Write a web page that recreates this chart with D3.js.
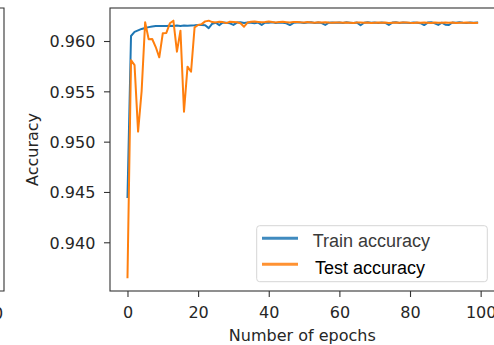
<!DOCTYPE html>
<html>
<head>
<meta charset="utf-8">
<script src="https://cdn.jsdelivr.net/npm/d3@7"></script>
<style>
  html, body { margin: 0; padding: 0; background: #fff; }
  svg { display: block; }
</style>
</head>
<body>
<script>
// ---- data ----
const epochs = d3.range(0, 100);
const trainAcc = [
 0.9445, 0.9605, 0.9609, 0.96105, 0.9612, 0.9613, 0.96138, 0.96145, 0.96148, 0.9615,
 0.96148, 0.9615, 0.96152, 0.96149, 0.96153, 0.9615, 0.96154, 0.96152, 0.96155, 0.96156,
 0.96158, 0.9616, 0.96157, 0.96128, 0.96172, 0.96182, 0.96158, 0.96185, 0.96181, 0.96176,
 0.9616, 0.96183, 0.96187, 0.96179, 0.96185, 0.96182, 0.96177, 0.96183, 0.9616, 0.96184,
 0.96181, 0.96186, 0.96179, 0.96184, 0.96182, 0.96176, 0.96158, 0.96181, 0.96185, 0.96183,
 0.96179, 0.96184, 0.96186, 0.9618, 0.96183, 0.96178, 0.9616, 0.96182, 0.96185, 0.96181,
 0.96184, 0.96179, 0.96186, 0.96182, 0.96178, 0.96183, 0.96157, 0.96182, 0.96187, 0.96181,
 0.96184, 0.9618, 0.96185, 0.96179, 0.9616, 0.96183, 0.96186, 0.9618, 0.96184, 0.96182,
 0.96178, 0.96185, 0.96181, 0.96177, 0.96158, 0.96183, 0.96186, 0.96176, 0.9616, 0.96182,
 0.96162, 0.96159, 0.96184, 0.96181, 0.96186, 0.96182, 0.96179, 0.96184, 0.96182, 0.96183
];
const testAcc = [
 0.93652, 0.9581, 0.9576, 0.9510, 0.9550, 0.96186, 0.96017, 0.9602, 0.9594, 0.95838,
 0.96077, 0.9608, 0.96176, 0.96202, 0.95894, 0.96103, 0.95297, 0.95745, 0.95695, 0.96136,
 0.96159, 0.96168, 0.96195, 0.96202, 0.96188, 0.96185, 0.96192, 0.96188, 0.96178, 0.96191,
 0.96189, 0.96186, 0.96176, 0.96142, 0.96183, 0.96192, 0.96194, 0.9619, 0.96186, 0.96189,
 0.96193, 0.96188, 0.96185, 0.96189, 0.96191, 0.96187, 0.96183, 0.96188, 0.9619, 0.96186,
 0.96184, 0.96188, 0.96185, 0.96182, 0.96186, 0.96184, 0.96187, 0.96183, 0.96181, 0.96185,
 0.96183, 0.96181, 0.96184, 0.96182, 0.9618, 0.96183, 0.96185, 0.96181, 0.96183, 0.9618,
 0.96182, 0.96184, 0.96181, 0.96183, 0.9618, 0.96182, 0.96184, 0.96181, 0.96183, 0.96185,
 0.96182, 0.9618, 0.96183, 0.96181, 0.96184, 0.96182, 0.9618, 0.96183, 0.96181, 0.96182,
 0.96184, 0.96181, 0.96183, 0.9618, 0.96182, 0.96181, 0.96183, 0.96182, 0.9618, 0.96181
];
const xTicks = [0, 20, 40, 60, 80, 100];
const yTicks = [0.940, 0.945, 0.950, 0.955, 0.960];
const seriesNames = ["Train accuracy", "Test accuracy"];
const seriesColors = ["#1f77b4", "#ff7f0e"];

// ---- layout ----
const W = 494, H = 345;
const plot = { left: 110, right: 494.6, top: 8, bottom: 291 };

const svg = d3.select("body").append("svg")
  .attr("width", W).attr("height", H);

const x = d3.scaleLinear().domain([-4.95, 103.95]).range([plot.left, plot.right]);
const y = d3.scaleLinear().domain([0.93516, 0.96328]).range([plot.bottom, plot.top]);

// partial neighbouring panel on the far left
svg.append("path")
  .attr("d", `M0,${plot.top}H4V${plot.bottom}H0`)
  .attr("fill", "none").attr("stroke", "#333").attr("stroke-width", 1.1);
svg.append("text")
  .attr("x", -12).attr("y", 319)
  .attr("text-anchor", "middle")
  .attr("font-family", "DejaVu Sans").attr("font-size", 16)
  .attr("fill", "#262626").text("100");

// lines
const line = d3.line().x((d, i) => x(epochs[i])).y(d => y(d));
const clip = svg.append("clipPath").attr("id", "clip").append("rect")
  .attr("x", plot.left).attr("y", plot.top)
  .attr("width", plot.right - plot.left).attr("height", plot.bottom - plot.top);

const gLines = svg.append("g").attr("clip-path", "url(#clip)");
[trainAcc, testAcc].forEach((s, k) => {
  gLines.append("path").datum(s)
    .attr("d", line)
    .attr("fill", "none")
    .attr("stroke", seriesColors[k])
    .attr("stroke-width", 2)
    .attr("stroke-linejoin", "round")
    .attr("stroke-linecap", "square");
});

// axes
const fontTick = "DejaVu Sans";
const xAxis = d3.axisBottom(x).tickValues(xTicks).tickFormat(d3.format("d"))
  .tickSize(6).tickPadding(10).tickSizeOuter(0);
const yAxis = d3.axisLeft(y).tickValues(yTicks).tickFormat(d3.format(".3f"))
  .tickSize(6).tickPadding(8.6).tickSizeOuter(0);

const gx = svg.append("g").attr("transform", `translate(0,${plot.bottom})`).call(xAxis);
const gy = svg.append("g").attr("transform", `translate(${plot.left},0)`).call(yAxis);
[gx, gy].forEach(g => {
  g.selectAll("text").attr("font-family", fontTick).attr("font-size", 16).attr("fill", "#262626");
  g.selectAll("line").attr("stroke", "#333").attr("stroke-width", 1.1);
  g.select(".domain").remove();
});
gy.selectAll("text").attr("dy", "0.36em");

// frame
svg.append("rect")
  .attr("x", plot.left).attr("y", plot.top)
  .attr("width", plot.right - plot.left).attr("height", plot.bottom - plot.top)
  .attr("fill", "none").attr("stroke", "#333").attr("stroke-width", 1.1);

// axis labels
svg.append("text")
  .attr("x", (plot.left + plot.right) / 2).attr("y", 341)
  .attr("text-anchor", "middle")
  .attr("font-family", fontTick).attr("font-size", 16).attr("fill", "#262626")
  .text("Number of epochs");
svg.append("text")
  .attr("transform", `translate(38,${(plot.top + plot.bottom) / 2}) rotate(-90)`)
  .attr("text-anchor", "middle")
  .attr("font-family", fontTick).attr("font-size", 16).attr("fill", "#262626")
  .text("Accuracy");

// legend
const lg = svg.append("g");
lg.append("rect")
  .attr("x", 256.7).attr("y", 225.7).attr("width", 230.6).attr("height", 56)
  .attr("rx", 3).attr("fill", "#fff").attr("fill-opacity", 0.8)
  .attr("stroke", "#d6d6d6").attr("stroke-width", 1);
const legendRows = [
  { ly: 238.3, ty: 246.7, tx: 312.7, fill: "#3a3a3a" },
  { ly: 264.3, ty: 274.3, tx: 315, fill: "#000" }
];
seriesNames.forEach((name, k) => {
  const r = legendRows[k];
  lg.append("line")
    .attr("x1", 262).attr("x2", 298).attr("y1", r.ly).attr("y2", r.ly)
    .attr("stroke", seriesColors[k]).attr("stroke-opacity", 0.85).attr("stroke-width", 3);
  lg.append("text")
    .attr("x", r.tx).attr("y", r.ty)
    .attr("font-family", "Liberation Sans, Arial").attr("font-size", 18)
    .attr("fill", r.fill).text(name);
});
</script>
</body>
</html>
